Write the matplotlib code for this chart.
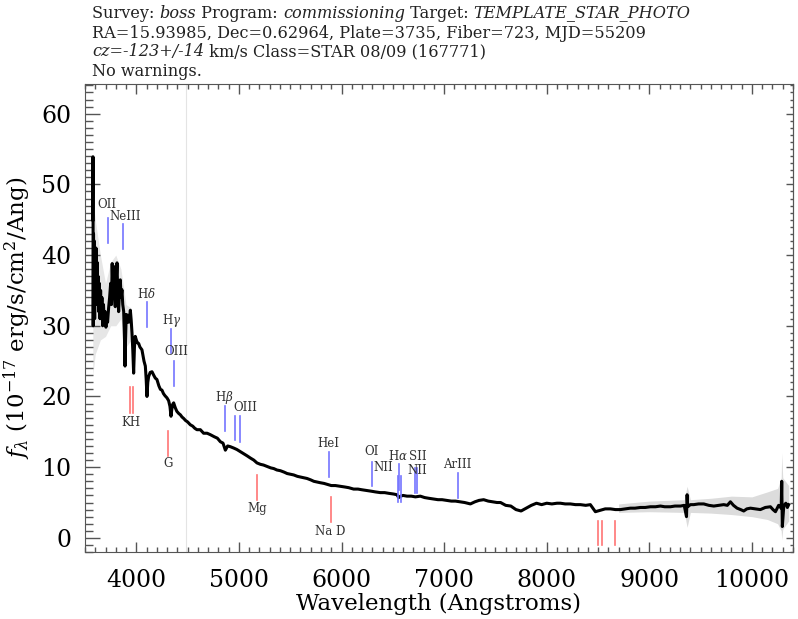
import matplotlib
matplotlib.use('Agg')
import matplotlib.pyplot as plt
from matplotlib.ticker import MultipleLocator

plt.rcParams['font.family'] = ['DejaVu Serif']
plt.rcParams['mathtext.fontset'] = 'dejavuserif'

# spectrum (Angstrom, 1e-17 erg/s/cm2/A)
wave = [3576, 3578, 3580, 3583, 3586, 3590, 3594, 3598, 3602, 3607, 3612, 3617,
        3622, 3628, 3634, 3640, 3646, 3652, 3658, 3665, 3672, 3680, 3688, 3696,
        3704, 3712, 3720, 3730, 3740, 3750, 3758, 3765, 3772, 3779, 3787, 3795,
        3803, 3812, 3820, 3828, 3836, 3844, 3852, 3860, 3868, 3877, 3885, 3890,
        3895, 3902, 3909, 3918, 3926, 3934, 3942, 3950, 3958, 3966, 3974, 3982,
        3990, 4000, 4010, 4023, 4035, 4045, 4055, 4065, 4075, 4088, 4096, 4104,
        4112, 4120, 4135, 4153, 4170, 4185, 4201, 4220, 4235, 4250, 4265, 4280,
        4299, 4315, 4328, 4338, 4346, 4355, 4364, 4380, 4395, 4413, 4430, 4445,
        4461, 4480, 4500, 4526, 4550, 4570, 4591, 4624, 4656, 4690, 4721, 4760,
        4790, 4819, 4845, 4868, 4890, 4916, 4950, 4980, 5014, 5050, 5080, 5111,
        5145, 5176, 5210, 5240, 5274, 5310, 5340, 5370, 5404, 5440, 5470, 5500,
        5534, 5570, 5600, 5630, 5664, 5700, 5730, 5760, 5793, 5830, 5875, 5900,
        5940, 5988, 6030, 6070, 6118, 6160, 6200, 6248, 6290, 6330, 6378, 6420,
        6460, 6508, 6540, 6557, 6575, 6600, 6638, 6680, 6720, 6768, 6810, 6850,
        6898, 6940, 6980, 7028, 7070, 7110, 7158, 7200, 7256, 7300, 7340, 7385,
        7430, 7470, 7515, 7550, 7600, 7650, 7700, 7750, 7800, 7850, 7900, 7950,
        8000, 8050, 8100, 8133, 8180, 8230, 8280, 8328, 8380, 8425, 8474, 8523,
        8570, 8620, 8670, 8718, 8765, 8815, 8860, 8913, 8960, 9010, 9060, 9108,
        9150, 9205, 9250, 9303, 9340, 9362, 9368, 9374, 9400, 9433, 9480, 9530,
        9580, 9628, 9680, 9725, 9760, 9790, 9820, 9855, 9890, 9920, 9950, 9985,
        10030, 10082, 10130, 10180, 10205, 10229, 10260, 10285, 10290, 10296,
        10310, 10330, 10345, 10358]
flux = [45.0, 53.9, 30.0, 43.0, 32.0, 42.0, 31.0, 40.5, 33.0, 41.0, 34.0, 39.0,
        33.0, 37.0, 32.0, 36.0, 31.0, 35.0, 31.0, 34.0, 30.0, 33.0, 30.5, 32.0,
        29.8, 31.5, 30.5, 32.5, 34.0, 36.0, 33.0, 38.8, 35.0, 38.4, 34.0, 32.7,
        36.0, 38.9, 34.0, 32.0, 35.0, 36.5, 34.0, 35.1, 33.0, 32.0, 28.0, 24.3,
        28.0, 31.6, 30.5, 31.5, 30.5, 31.0, 32.2, 30.8, 29.0, 26.5, 23.3, 27.0,
        28.5, 28.0, 27.6, 27.5, 27.0, 26.8, 26.6, 25.8, 25.0, 24.3, 22.5, 20.0,
        22.0, 22.8, 23.4, 23.5, 23.0, 22.6, 22.4, 21.5, 21.0, 20.9, 20.4, 20.1,
        19.8, 19.4, 18.6, 17.2, 18.2, 18.9, 19.1, 18.4, 17.9, 17.6, 17.4, 17.1,
        16.9, 16.6, 16.4, 16.0, 15.8, 15.5, 15.3, 15.3, 14.8, 14.8, 14.6, 14.3,
        14.1, 13.6, 13.4, 12.4, 13.0, 12.9, 12.7, 12.5, 12.2, 11.9, 11.6, 11.3,
        11.0, 10.6, 10.4, 10.3, 10.1, 9.9, 9.8, 9.6, 9.5, 9.3, 9.1, 9.0,
        8.9, 8.7, 8.6, 8.5, 8.4, 8.2, 8.0, 7.9, 7.8, 7.7, 7.5, 7.4,
        7.4, 7.3, 7.2, 7.1, 6.9, 6.9, 6.8, 6.7, 6.6, 6.5, 6.4, 6.4,
        6.3, 6.2, 6.1, 5.7, 5.9, 6.0, 5.9, 5.9, 5.8, 5.9, 5.7, 5.6,
        5.5, 5.4, 5.4, 5.3, 5.2, 5.2, 5.1, 5.0, 4.8, 5.1, 5.3, 5.4,
        5.2, 5.1, 5.0, 5.0, 4.6, 4.5, 4.0, 3.8, 4.2, 4.6, 4.9, 4.7,
        4.9, 4.8, 4.9, 4.9, 4.8, 4.8, 4.7, 4.7, 4.6, 4.7, 3.7, 3.9,
        4.1, 4.1, 4.0, 4.0, 4.1, 4.2, 4.2, 4.3, 4.3, 4.4, 4.4, 4.5,
        4.4, 4.4, 4.5, 4.5, 4.6, 3.0, 6.1, 4.4, 4.7, 4.7, 4.8, 4.8,
        4.6, 4.5, 4.6, 4.7, 4.6, 5.1, 4.6, 4.2, 4.0, 3.8, 4.1, 4.2,
        4.1, 4.0, 4.3, 4.4, 4.0, 3.7, 4.6, 4.2, 8.0, 1.6,
        4.5, 4.9, 4.3, 4.7]

# grey error envelope: blue end and red end
blue_err_wave = [3576, 3600, 3650, 3700, 3750, 3800, 3850, 3900, 3950]
blue_err_lo = [23.0, 26.0, 28.0, 28.5, 30.0, 30.0, 31.0, 27.0, 28.0]
blue_err_hi = [48.0, 45.0, 40.0, 36.0, 39.0, 40.0, 38.0, 33.0, 32.5]
red_err_wave = [8700, 9000, 9340, 9368, 9400, 9600, 9800, 10000, 10150, 10250,
                10285, 10290, 10300, 10358]
red_err_lo = [3.6, 3.7, 3.6, 1.5, 3.6, 3.5, 3.3, 3.0, 2.6, 2.0, 1.0, -0.3, 1.2, 2.4]
red_err_hi = [4.8, 5.2, 5.4, 7.3, 5.4, 5.6, 5.9, 5.8, 6.5, 7.0, 8.5, 12.0, 8.5, 7.4]

# emission lines (blue): label, wavelength, marker bottom/top, label x, label y
em_names = ['OII', 'NeIII', r'H$\delta$', r'H$\gamma$', 'OIII', r'H$\beta$',
            '', 'OIII', 'HeI', 'OI', 'NII', r'H$\alpha$', '', 'SII', '', 'ArIII']
em_wave = [3727, 3869, 4102, 4340, 4363, 4861, 4959, 5007, 5876, 6300, 6548,
           6563, 6583, 6716, 6731, 7135]
em_lo = [41.7, 40.9, 29.8, 26.2, 21.5, 15.1, 13.9, 13.6, 8.6, 7.3, 5.1,
         6.8, 5.1, 6.3, 6.3, 5.6]
em_hi = [45.3, 44.4, 33.3, 29.6, 25.0, 18.7, 17.3, 17.2, 12.1, 10.8, 8.7,
         10.4, 8.7, 9.9, 9.9, 9.15]
em_lab_x = [3710, 3890, 4102, 4340, 4390, 4861, 4959, 5060, 5876, 6297, 6404,
            6555, 6583, 6740, 6731, 7132]
em_lab_y = [47.2, 45.4, 34.5, 30.8, 26.4, 19.9, 0, 18.4, 13.4, 12.2, 9.9,
            11.6, 0, 11.5, 0, 10.4]
extra_lab = ('NII', 6736, 9.5)

# absorption lines (red)
ab_names = ['KH', '', 'G', 'Mg', 'Na D', 'CaII', '', '']
ab_wave = [3934, 3969, 4305, 5175, 5894, 8498, 8542, 8662]
ab_lo = [17.6, 17.6, 11.6, 5.4, 2.2, -1.0, -1.0, -1.0]
ab_hi = [21.3, 21.3, 15.1, 8.9, 5.8, 2.45, 2.45, 2.45]
ab_lab_x = [3951, 3969, 4305, 5175, 5894, 8540, 0, 0]
ab_lab_y = [16.3, 0, 10.5, 4.2, 0.9, -2.9, 0, 0]

W, H = 798, 619
fig = plt.figure(figsize=(W / 100, H / 100), dpi=100)
ax = fig.add_axes([85 / W, 1 - 552 / H, (793 - 85) / W, (552 - 84) / H])

ax.axvline(4487, color='#e4e4e4', lw=0.8, zorder=0)
ax.fill_between(blue_err_wave, blue_err_lo, blue_err_hi, color='#e6e6e6', lw=0, zorder=1)
ax.fill_between(red_err_wave, red_err_lo, red_err_hi, color='#dcdcdc', lw=0, zorder=1)
ax.plot(wave, flux, color='black', lw=2.2, zorder=3)

lab_kw = dict(fontsize=8.5, color='#333333', ha='center', va='center', zorder=4)
for name, w, lo, hi, lx, ly in zip(em_names, em_wave, em_lo, em_hi, em_lab_x, em_lab_y):
    ax.plot([w, w], [lo, hi], color='#7474ff', lw=1.2, zorder=4)
    if name:
        ax.text(lx, ly, name, **lab_kw)
ax.text(extra_lab[1], extra_lab[2], extra_lab[0], **lab_kw)

for name, w, lo, hi, lx, ly in zip(ab_names, ab_wave, ab_lo, ab_hi, ab_lab_x, ab_lab_y):
    ax.plot([w, w], [lo, hi], color='#ff7474', lw=1.2, zorder=4)
    if name:
        ax.text(lx, ly, name, clip_on=True, **lab_kw)

ax.set_xlim(3500, 10400)
ax.set_ylim(-2.0, 64.2)
ax.xaxis.set_major_locator(MultipleLocator(1000))
ax.xaxis.set_minor_locator(MultipleLocator(100))
ax.yaxis.set_major_locator(MultipleLocator(10))
ax.yaxis.set_minor_locator(MultipleLocator(1))

tc = '#555555'
ax.xaxis.set_tick_params(which='major', direction='in', length=7, width=1, color=tc,
                         top=True, labelsize=17, pad=12)
ax.xaxis.set_tick_params(which='minor', direction='in', length=3.5, width=1, color=tc, top=True)
ax.yaxis.set_tick_params(which='major', direction='in', length=10.5, width=1, color=tc,
                         labelsize=17, pad=10)
ax.yaxis.set_tick_params(which='minor', direction='in', length=5.5, width=1, color=tc)
for sp in ax.spines.values():
    sp.set_color(tc)

sec = ax.secondary_yaxis('right')
sec.yaxis.set_major_locator(MultipleLocator(10))
sec.yaxis.set_minor_locator(MultipleLocator(1))
sec.tick_params(which='major', direction='in', length=5, width=1, color=tc, labelright=False)
sec.tick_params(which='minor', direction='in', length=2.5, width=1, color=tc)
sec.spines['right'].set_color(tc)

ax.set_xlabel('Wavelength (Angstroms)', fontsize=16.5, labelpad=1)
ax.set_ylabel(r'$f_\lambda$ (10$^{-17}$ erg/s/cm$^2$/Ang)', fontsize=16.5, labelpad=6)

# header with mixed upright / italic pieces
header = [
    [('Survey: ', 'normal'), ('boss', 'italic'), (' Program: ', 'normal'),
     ('commissioning', 'italic'), (' Target: ', 'normal'), ('TEMPLATE_STAR_PHOTO', 'italic')],
    [('RA=15.93985, Dec=0.62964, Plate=3735, Fiber=723, MJD=55209', 'normal')],
    [('cz=-123+/-14', 'italic'), (' km/s Class=STAR 08/09 (167771)', 'normal')],
    [('No warnings.', 'normal')],
]
header_y = [13, 33, 52, 71]
renderer = fig.canvas.get_renderer()
for parts, yp in zip(header, header_y):
    x = 92 / W
    for s, style in parts:
        t = fig.text(x, 1 - yp / H, s, fontsize=11.6, fontstyle=style, color='#222222',
                     ha='left', va='center')
        x += t.get_window_extent(renderer).width / W

fig.savefig('out.png', dpi=100)
